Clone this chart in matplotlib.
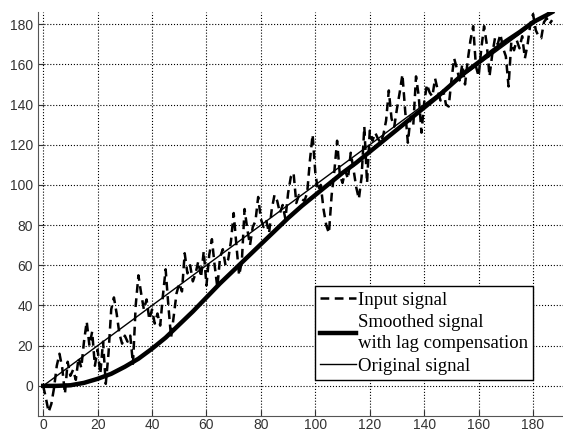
import matplotlib.pyplot as plt
import numpy as np

# values
input_x = list(range(0, 188))
input_y = [0, -6, -13, -9, -1, 10, 16, 9, -4, 12,
           5, 8, 3, 14, 9, 22, 32, 20, 27, 10,
           18, 6, 22, 1, 16, 38, 44, 36, 26, 21,
           25, 22, 25, 11, 40, 55, 46, 38, 43, 33,
           38, 31, 36, 30, 45, 58, 40, 24, 35, 46,
           51, 47, 66, 56, 60, 52, 56, 62, 54, 67,
           50, 65, 73, 60, 49, 64, 68, 60, 63, 72,
           86, 70, 55, 62, 88, 78, 70, 79, 82, 94,
           83, 79, 82, 76, 88, 95, 92, 86, 90, 83,
           96, 104, 106, 91, 95, 93, 92, 96, 112, 125,
           106, 97, 100, 88, 80, 76, 95, 107, 122, 105,
           101, 107, 103, 116, 108, 99, 93, 104, 129, 101,
           127, 122, 126, 123, 121, 125, 132, 147, 133, 129,
           138, 146, 155, 137, 121, 134, 130, 154, 144, 126,
           141, 150, 146, 144, 153, 147, 142, 147, 140, 139,
           152, 163, 158, 152, 160, 150, 162, 172, 179, 159,
           154, 168, 179, 170, 154, 165, 173, 170, 175, 168,
           164, 149, 171, 167, 172, 168, 174, 163, 170, 180,
           185, 177, 174, 173, 181, 183, 180, 182]

smooth_x = [0, 5, 10, 15, 20, 25, 30, 35, 40, 45, 50, 55, 60, 65, 70, 75,
            80, 85, 90, 95, 100, 105, 110, 115, 120, 125, 130, 135, 140,
            145, 150, 155, 160, 165, 170, 175, 180, 185, 187]
smooth_y = [0, 0, 0.3, 1.5, 3.5, 6, 9.5, 13.5, 18.5, 24, 30.5, 37, 44, 51,
            57.5, 64, 70.5, 77, 83.5, 89.5, 95, 100.5, 106, 111, 116.5,
            122, 127.5, 133, 138.5, 144, 150, 156, 161, 166.5, 171.5, 176,
            181, 184.5, 186]

orig_x = [0, 187]
orig_y = [0, 187]

fig = plt.figure(figsize=(5.63, 4.32), dpi=100)
ax = fig.add_axes([0.067, 0.037, 0.933, 0.935])

ax.plot(input_x, input_y, 'k--', linewidth=1.8, dashes=(3.5, 2.2), label='Input signal')
ax.plot(smooth_x, smooth_y, 'k-', linewidth=3.2, label='Smoothed signal\nwith lag compensation')
ax.plot(orig_x, orig_y, 'k-', linewidth=1.0, label='Original signal')

ax.set_xlim(-2, 191)
ax.set_ylim(-15, 186)
ax.set_xticks(np.arange(0, 181, 20))
ax.set_yticks(np.arange(0, 181, 20))
ax.grid(True, linestyle=':', color='black', linewidth=0.8)
ax.tick_params(direction='in', length=4, labelsize=10, colors='#333333',
               labelfontfamily='Liberation Sans')
ax.tick_params(axis='x', pad=1.5)
for s in ['top', 'right']:
    ax.spines[s].set_visible(False)
for s in ['left', 'bottom']:
    ax.spines[s].set_color('#555555')

leg = ax.legend(loc='lower left', bbox_to_anchor=(0.527, 0.088),
                prop={'family': 'Liberation Serif', 'size': 13.5},
                handlelength=1.9, handletextpad=0.1, borderpad=0.3,
                labelspacing=0.3, fancybox=False, framealpha=1,
                edgecolor='black', borderaxespad=0)
leg.get_frame().set_linewidth(1.0)
for t in leg.get_texts():
    t.set_linespacing(1.3)

plt.savefig('out.png', dpi=100)
